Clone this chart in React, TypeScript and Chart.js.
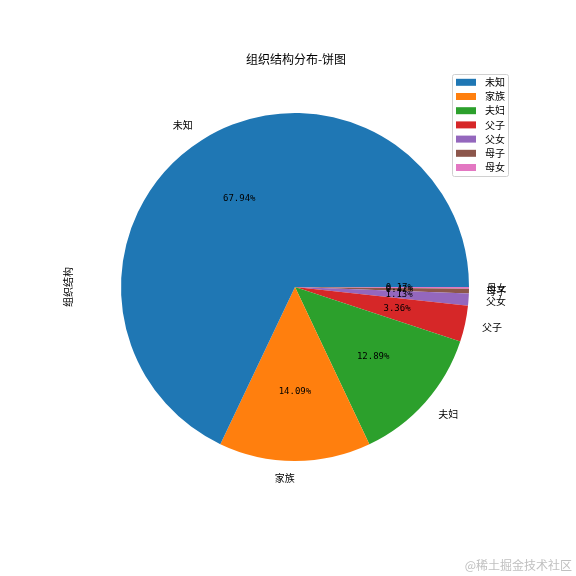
import React, { useEffect, useRef } from "react";
import { Chart, ArcElement, PieController } from "chart.js";

Chart.register(ArcElement, PieController);

const categories = ["未知", "家族", "夫妇", "父子", "父女", "母子", "母女"];
const values = [67.94, 14.09, 12.89, 3.36, 1.13, 0.42, 0.17];
const colors = ["#1f77b4", "#ff7f0e", "#2ca02c", "#d62728", "#9467bd", "#8c564b", "#e377c2"];
const titleText = "组织结构分布-饼图";
const yLabelText = "组织结构";
const watermarkText = "@稀土掘金技术社区";

const CJK = "'Noto Sans CJK SC', 'DejaVu Sans', sans-serif";
const MONO = "'DejaVu Sans Mono', 'Noto Sans CJK SC', monospace";

const overlay = {
  id: "overlay",
  afterDraw(chart: any) {
    const ctx = chart.ctx as CanvasRenderingContext2D;
    const meta = chart.getDatasetMeta(0);
    const n = categories.length;
    ctx.save();
    ctx.fillStyle = "#000";
    ctx.textBaseline = "middle";
    // labels and percentages
    meta.data.forEach((arc: any, j: number) => {
      const i = n - 1 - j;
      const p = arc.getProps(["x", "y", "startAngle", "endAngle", "outerRadius"], true);
      const mid = (p.startAngle + p.endAngle) / 2;
      const c = Math.cos(mid);
      const s = Math.sin(mid);
      const R = p.outerRadius;
      ctx.font = `10px ${CJK}`;
      ctx.textAlign = c >= -1e-9 ? "left" : "right";
      ctx.fillText(categories[i], p.x + c * R * 1.1, p.y + s * R * 1.1);
    });
    meta.data.forEach((arc: any, j: number) => {
      const i = n - 1 - j;
      const p = arc.getProps(["x", "y", "startAngle", "endAngle", "outerRadius"], true);
      const mid = (p.startAngle + p.endAngle) / 2;
      const R = p.outerRadius;
      ctx.font = `9px ${MONO}`;
      ctx.textAlign = "center";
      ctx.fillText(values[i].toFixed(2) + "%", p.x + Math.cos(mid) * R * 0.6, p.y + Math.sin(mid) * R * 0.6);
    });
    // title
    ctx.font = `12px ${CJK}`;
    ctx.textAlign = "center";
    ctx.fillText(titleText, 296, 59);
    // y label
    ctx.save();
    ctx.translate(68, 287);
    ctx.rotate(-Math.PI / 2);
    ctx.font = `10px ${CJK}`;
    ctx.textAlign = "center";
    ctx.fillText(yLabelText, 0, 0);
    ctx.restore();
    // legend
    const lx = 452.5, ly = 74.5, lw = 56, lh = 102;
    ctx.beginPath();
    (ctx as any).roundRect(lx, ly, lw, lh, 2);
    ctx.fillStyle = "rgba(255,255,255,0.8)";
    ctx.fill();
    ctx.strokeStyle = "#d0d0d0";
    ctx.lineWidth = 1;
    ctx.stroke();
    categories.forEach((cat, i) => {
      const cy = 82.3 + i * 14.2;
      ctx.fillStyle = colors[i];
      ctx.fillRect(456, cy - 3.5, 20, 7);
      ctx.fillStyle = "#000";
      ctx.font = `10px ${CJK}`;
      ctx.textAlign = "left";
      ctx.fillText(cat, 485, cy);
    });
    // watermark
    ctx.fillStyle = "#c0c0c0";
    ctx.font = `12px ${CJK}`;
    ctx.textAlign = "right";
    ctx.fillText(watermarkText, 572, 565);
    ctx.restore();
  },
};

export default function App() {
  const ref = useRef<HTMLCanvasElement | null>(null);
  useEffect(() => {
    if (!ref.current) return;
    const rev = <T,>(a: T[]) => a.slice().reverse();
    const chart = new Chart(ref.current, {
      type: "pie",
      data: {
        labels: rev(categories),
        datasets: [
          {
            data: rev(values),
            backgroundColor: rev(colors),
            borderWidth: 0,
          },
        ],
      },
      options: {
        animation: false,
        responsive: false,
        rotation: 90,
        layout: { padding: { left: 121, right: 107, top: 113, bottom: 115 } },
        plugins: { legend: { display: false }, tooltip: { enabled: false } },
      },
      plugins: [overlay],
    } as any);
    return () => chart.destroy();
  }, []);
  return (
    <div style={{ position: "absolute", left: 0, top: 0, width: 576, height: 576, background: "#fff" }}>
      <canvas ref={ref} width={576} height={576} />
    </div>
  );
}
